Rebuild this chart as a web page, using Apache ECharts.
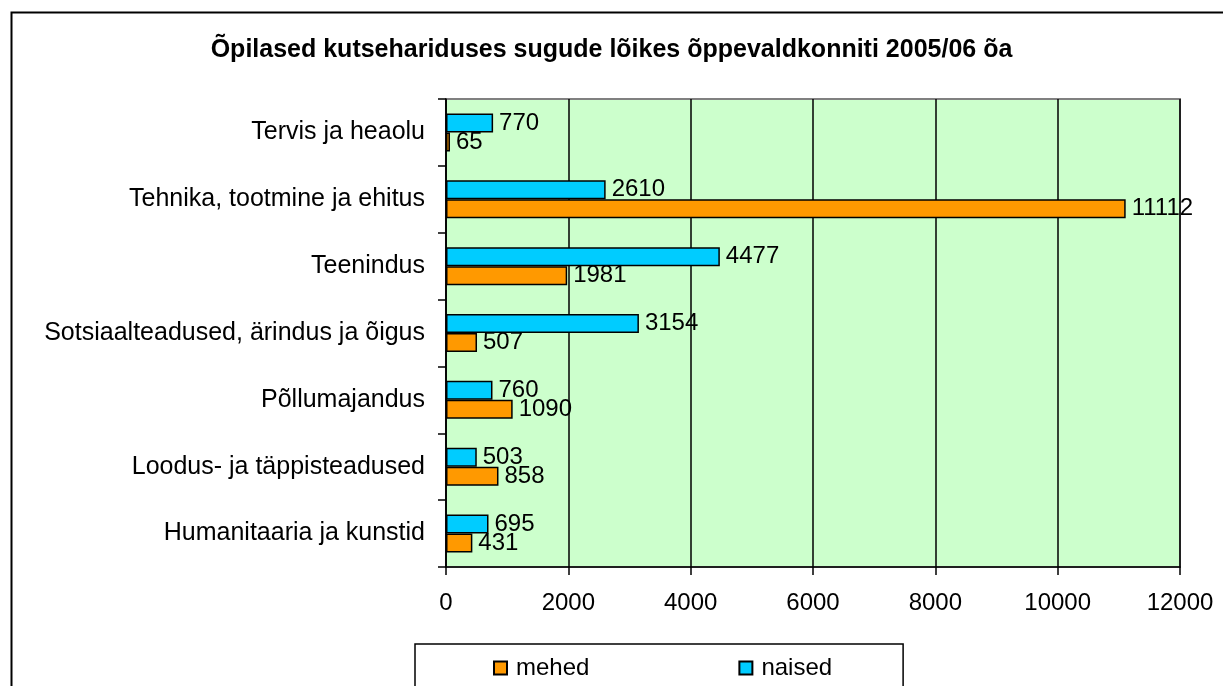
<!DOCTYPE html>
<html>
<head>
<meta charset="utf-8">
<script src="https://cdn.jsdelivr.net/npm/echarts@6/dist/echarts.min.js"></script>
<style>html,body{margin:0;padding:0;background:#fff}#c{width:1223px;height:686px}</style>
</head>
<body>
<div id="c"></div>
<script>
const titleText = 'Õpilased kutsehariduses sugude lõikes õppevaldkonniti 2005/06 õa';
const categories = ['Tervis ja heaolu', 'Tehnika, tootmine ja ehitus', 'Teenindus', 'Sotsiaalteadused, ärindus ja õigus', 'Põllumajandus', 'Loodus- ja täppisteadused', 'Humanitaaria ja kunstid'];
const naised = [770, 2610, 4477, 3154, 760, 503, 695];
const mehed = [65, 11112, 1981, 507, 1090, 858, 431];
const legendNames = ['mehed', 'naised'];
const FONT = '"Liberation Sans", Arial, sans-serif';

const chart = echarts.init(document.getElementById('c'), null, {renderer: 'canvas'});
chart.setOption({
  animation: false,
  backgroundColor: '#fff',
  textStyle: {fontFamily: FONT, color: '#000'},
  graphic: [{
    type: 'rect', left: 9, top: 10, z: 100, silent: true,
    shape: {width: 1300, height: 720},
    style: {fill: 'none', stroke: '#000', lineWidth: 2}
  }],
  title: {
    text: titleText, left: 'center', top: 33,
    textStyle: {fontFamily: FONT, fontSize: 25, fontWeight: 'bold', color: '#000'}
  },
  legend: {
    data: legendNames,
    left: 415, top: 644,
    padding: [12, 71, 30, 78],
    itemGap: 149,
    itemWidth: 13, itemHeight: 13,
    borderColor: '#000', borderWidth: 1.5,
    icon: 'rect',
    textStyle: {fontFamily: FONT, fontSize: 24, color: '#000', padding: [0, 0, 0, 4]}
  },
  grid: {
    left: 446, right: 43, top: 99, bottom: 119,
    show: true, backgroundColor: '#CCFFCC', borderColor: '#808080', borderWidth: 2
  },
  xAxis: {
    type: 'value', min: 0, max: 12000, interval: 2000,
    axisLine: {show: true, lineStyle: {color: '#000', width: 1.5}},
    axisTick: {show: true, length: 8, lineStyle: {color: '#000', width: 1.5}},
    axisLabel: {fontFamily: FONT, fontSize: 24, color: '#000', margin: 24, formatter: v => String(v)},
    splitLine: {show: true, lineStyle: {color: '#000', width: 1.5}}
  },
  yAxis: {
    type: 'category', data: categories, inverse: true,
    axisLine: {show: true, lineStyle: {color: '#000', width: 1.5}},
    axisTick: {show: true, length: 8, alignWithLabel: false, lineStyle: {color: '#000', width: 1.5}},
    axisLabel: {fontFamily: FONT, fontSize: 25, color: '#000', margin: 21},
    splitLine: {show: false}
  },
  series: [
    {
      name: 'naised', type: 'bar', data: naised, barWidth: 19, barGap: '0%',
      itemStyle: {color: '#00CCFF', borderColor: '#000', borderWidth: 1.5},
      label: {show: true, position: 'right', distance: 6, fontFamily: FONT, fontSize: 24, color: '#000'}
    },
    {
      name: 'mehed', type: 'bar', data: mehed, barWidth: 19, barGap: '0%',
      itemStyle: {color: '#FF9900', borderColor: '#000', borderWidth: 1.5},
      label: {show: true, position: 'right', distance: 6, fontFamily: FONT, fontSize: 24, color: '#000'}
    }
  ]
});
</script>
</body>
</html>
